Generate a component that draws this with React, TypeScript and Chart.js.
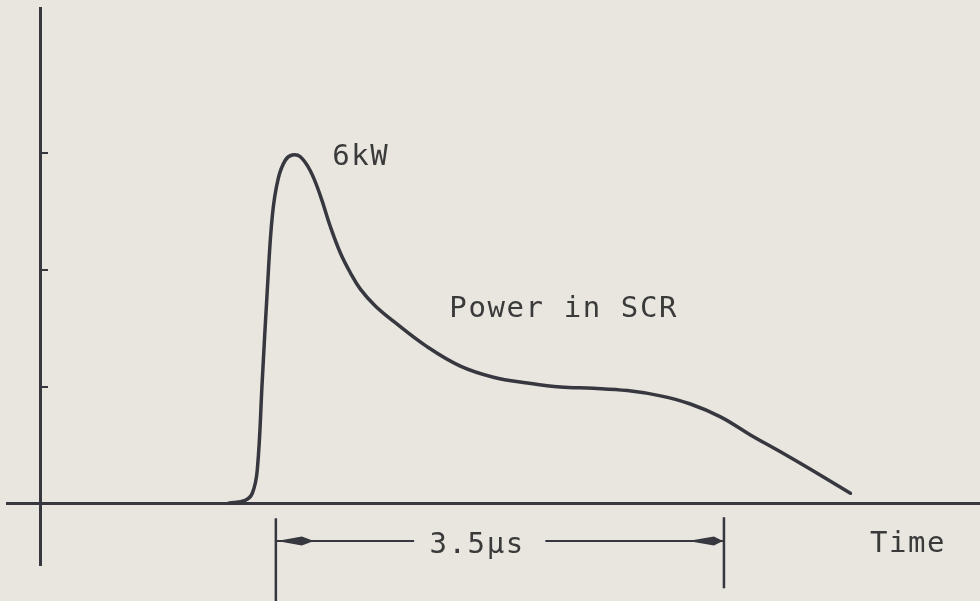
import React, { useEffect, useRef } from "react";
import { Chart, registerables } from "chart.js";

Chart.register(...registerables);

// ---- data (time in µs, power in kW) ----
const timeUs = [
  1.47, 1.6, 1.656, 1.695, 1.734, 1.773, 1.813, 1.859, 1.914, 1.969, 2.031, 2.109,
  2.188, 2.266, 2.344, 2.422, 2.5, 2.617, 2.758, 3.023, 3.281, 3.539, 3.805, 4.063,
  4.32, 4.586, 4.844, 5.078, 5.313, 5.547, 5.781, 6.016, 6.328,
];
const powerKw = [
  0, 0.05, 0.17, 0.57, 2.11, 3.65, 4.94, 5.57, 5.88, 5.97, 5.94, 5.7,
  5.27, 4.74, 4.29, 3.95, 3.67, 3.38, 3.12, 2.68, 2.35, 2.16, 2.06, 1.99,
  1.97, 1.93, 1.84, 1.7, 1.48, 1.17, 0.88, 0.58, 0.17,
];
const yTickValues = [2, 4, 6];

const peakLabel = "6kW";
const curveLabel = "Power in SCR";
const axisLabel = "Time";
const bracketLabel = "3.5μs";
const bracketStartUs = 1.84;
const bracketSpanUs = 3.5;

const INK = "#37373f";
const PAPER = "#e8e6df";
const FONT = "29px 'DejaVu Sans Mono', monospace";

const paperPlugin = {
  id: "paper",
  beforeDraw(chart: any) {
    const { ctx, width, height } = chart;
    ctx.save();
    ctx.fillStyle = PAPER;
    ctx.fillRect(0, 0, width, height);
    ctx.restore();
  },
};

const annotationPlugin = {
  id: "annotations",
  afterDraw(chart: any) {
    const { ctx } = chart;
    const xs = chart.scales.x;
    const ys = chart.scales.y;
    const px = (v: number) => xs.getPixelForValue(v);
    const py = (v: number) => ys.getPixelForValue(v);
    ctx.save();
    ctx.fillStyle = "#3a3a3a";
    ctx.font = FONT;
    ctx.textBaseline = "alphabetic";
    ctx.textAlign = "left";
    try {
      (ctx as any).letterSpacing = "1.6px";
    } catch (e) {}
    ctx.fillText(peakLabel, px(2.28), py(5.8));
    ctx.fillText(curveLabel, px(3.195), py(3.2));
    ctx.fillText(axisLabel, px(6.48), py(-0.84));
    ctx.fillText(bracketLabel, px(3.04), py(-0.86));

    // bracket
    const x0 = px(bracketStartUs);
    const x1 = px(bracketStartUs + bracketSpanUs);
    const ay = py(-0.65);
    ctx.strokeStyle = INK;
    ctx.lineWidth = 2.5;
    ctx.beginPath();
    ctx.moveTo(x0, py(-0.26));
    ctx.lineTo(x0, py(-1.75));
    ctx.moveTo(x1, py(-0.24));
    ctx.lineTo(x1, py(-1.46));
    ctx.stroke();
    ctx.lineWidth = 2;
    ctx.beginPath();
    ctx.moveTo(x0, ay);
    ctx.lineTo(px(2.92), ay);
    ctx.moveTo(px(3.945), ay);
    ctx.lineTo(x1, ay);
    ctx.stroke();
    // arrowheads
    ctx.fillStyle = INK;
    ctx.beginPath();
    ctx.moveTo(x0 + 1, ay);
    ctx.lineTo(x0 + 26, ay - 4.5);
    ctx.lineTo(x0 + 38, ay);
    ctx.lineTo(x0 + 26, ay + 4.5);
    ctx.closePath();
    ctx.fill();
    ctx.beginPath();
    ctx.moveTo(x1 - 1, ay);
    ctx.lineTo(x1 - 10, ay - 4.5);
    ctx.lineTo(x1 - 36, ay);
    ctx.lineTo(x1 - 10, ay + 4.5);
    ctx.closePath();
    ctx.fill();
    ctx.restore();
  },
};

export default function App() {
  const ref = useRef<HTMLCanvasElement | null>(null);
  useEffect(() => {
    if (!ref.current) return;
    const chart = new Chart(ref.current, {
      type: "line",
      data: {
        datasets: [
          {
            data: timeUs.map((t, i) => ({ x: t, y: powerKw[i] })),
            borderColor: INK,
            borderWidth: 3.5,
            pointRadius: 0,
            tension: 0.4,
            borderCapStyle: "round",
            borderJoinStyle: "round",
            fill: false,
          },
        ],
      },
      options: {
        animation: false,
        responsive: false,
        events: [],
        layout: { padding: { left: 7, right: 0, top: 8, bottom: 36 } },
        plugins: { legend: { display: false }, tooltip: { enabled: false } },
        scales: {
          x: {
            type: "linear",
            min: -0.26,
            max: 7.34,
            position: { y: 0 } as any,
            grid: { display: false, drawTicks: false },
            ticks: { display: false },
            border: { display: true, color: INK, width: 3 },
          },
          y: {
            type: "linear",
            min: -1.06,
            max: 8.49,
            position: { x: 0 } as any,
            afterBuildTicks: (scale: any) => {
              scale.ticks = yTickValues.map((v) => ({ value: v }));
            },
            grid: {
              display: true,
              drawOnChartArea: false,
              drawTicks: true,
              tickLength: -9,
              tickColor: INK,
              lineWidth: 2,
            },
            ticks: { display: false },
            border: { display: true, color: INK, width: 3 },
          },
        },
      },
      plugins: [paperPlugin, annotationPlugin],
    });
    return () => chart.destroy();
  }, []);
  return (
    <div
      style={{
        position: "absolute",
        left: 0,
        top: 0,
        width: 980,
        height: 601,
        background: PAPER,
      }}
    >
      <canvas ref={ref} width={980} height={601} style={{ display: "block" }} />
    </div>
  );
}
